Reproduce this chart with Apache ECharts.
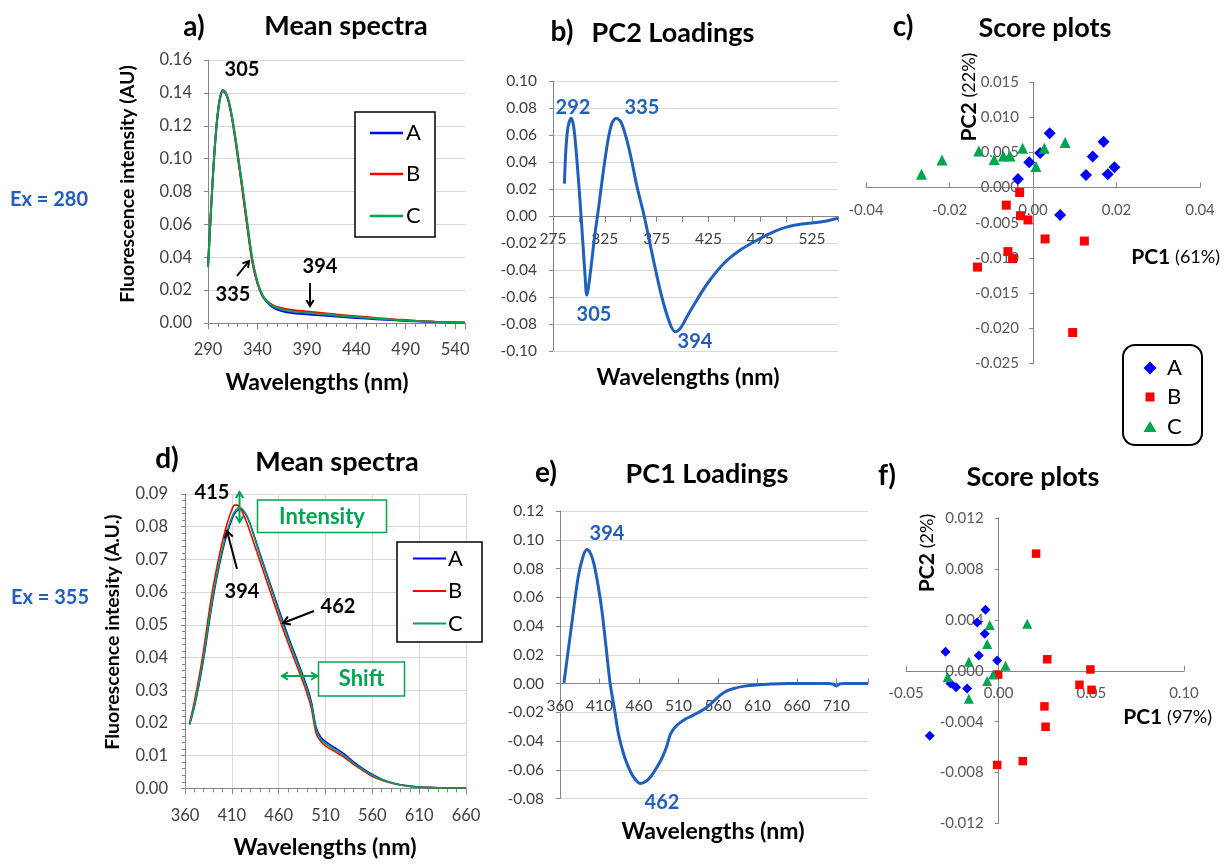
<!DOCTYPE html>
<html><head><meta charset="utf-8">
<script src="https://cdn.jsdelivr.net/npm/echarts@6/dist/echarts.min.js"></script>
<style>html,body{margin:0;padding:0;background:#fff}#c{width:1231px;height:864px}</style>
</head><body><div id="c"></div>
<script>
// ---------- DATA ----------
// a) Mean spectra, Ex = 280
const wlA = [290,293,296,299,302,305,308,311,315,320,325,330,335,340,345,350,355,360,370,380,390,400,420,440,460,480,500,520,540,550];
const aSpecA = [0.034,0.068,0.099,0.122,0.136,0.141,0.1395,0.1345,0.1225,0.1025,0.081,0.0585,0.0375,0.0245,0.0165,0.0125,0.0098,0.0082,0.0066,0.0058,0.0053,0.0048,0.0039,0.0031,0.0023,0.0016,0.0010,0.0006,0.0003,0.0002];
const aSpecB = [0.034,0.069,0.100,0.123,0.137,0.1418,0.1400,0.1345,0.1220,0.1015,0.0800,0.0572,0.0365,0.0242,0.0168,0.0132,0.0110,0.0097,0.0083,0.0076,0.0070,0.0064,0.0052,0.0041,0.0031,0.0022,0.0014,0.0008,0.0004,0.0003];
const aSpecC = [0.034,0.068,0.099,0.122,0.1363,0.1413,0.1398,0.1350,0.1232,0.1035,0.0822,0.0597,0.0385,0.0253,0.0172,0.0131,0.0106,0.0091,0.0075,0.0068,0.0062,0.0057,0.0046,0.0036,0.0027,0.0019,0.0012,0.0007,0.0003,0.0002];

// b) PC2 loadings, Ex = 280
const wlB = [286,287.5,289.5,292.5,295,298,301,304,306,307.5,309,312,315,319,323,328,332,336,341,348,356,363,372,380,388,393,398,404,410,424,440,456,475,490,502,515,527,540,550];
const pc2Load = [0.024,0.050,0.066,0.0724,0.066,0.042,0.012,-0.022,-0.045,-0.0586,-0.054,-0.036,-0.016,0.006,0.030,0.056,0.069,0.0724,0.069,0.051,0.022,0.0,-0.033,-0.060,-0.080,-0.0858,-0.083,-0.075,-0.067,-0.050,-0.035,-0.025,-0.0166,-0.011,-0.0079,-0.006,-0.005,-0.0035,-0.0017];

// c) Score plots (PC1 61%, PC2 22%)
const cA_pc1 = [0.0040,-0.0009,0.0017,-0.0036,0.0169,0.0143,0.0195,0.0179,0.0127,0.0065];
const cA_pc2 = [0.0077,0.0036,0.0049,0.0012,0.0065,0.0044,0.0029,0.0019,0.0018,-0.0039];
const cB_pc1 = [-0.0032,-0.0064,-0.0030,-0.0012,0.0029,0.0123,-0.0060,-0.0049,-0.0133,0.0095];
const cB_pc2 = [-0.0007,-0.0025,-0.0040,-0.0046,-0.0073,-0.0076,-0.0091,-0.0101,-0.0113,-0.0206];
const cC_pc1 = [-0.0267,-0.0218,-0.0130,-0.0093,-0.0071,-0.0055,-0.0025,0.0007,0.0027,0.0077];
const cC_pc2 = [0.0019,0.0039,0.0052,0.0040,0.0045,0.0045,0.0056,0.0030,0.0056,0.0064];

// d) Mean spectra, Ex = 355
const wlD = [365,370,375,380,385,390,395,400,405,410,413,416,419,422,426,430,440,450,460,470,480,490,495,500,505,510,520,530,540,550,560,570,580,590,600,610,620,640,660];
const dSpecA = [0.0195,0.0250,0.0318,0.0398,0.0492,0.0582,0.0660,0.0725,0.0780,0.0822,0.0840,0.0850,0.0853,0.0849,0.0832,0.0805,0.0718,0.0633,0.0548,0.0466,0.0390,0.0313,0.0263,0.0186,0.0156,0.0143,0.0124,0.0105,0.0081,0.0060,0.0042,0.0028,0.0018,0.0011,0.0007,0.0004,0.0003,0.0001,0.0001];
const dSpecB = [0.0200,0.0265,0.0340,0.0425,0.0525,0.0615,0.0690,0.0755,0.0810,0.0852,0.0866,0.0866,0.0856,0.0840,0.0812,0.0780,0.0695,0.0610,0.0525,0.0445,0.0370,0.0293,0.0243,0.0168,0.0143,0.0130,0.0112,0.0095,0.0073,0.0054,0.0037,0.0025,0.0016,0.0010,0.0006,0.0004,0.0002,0.0001,0.0001];
const dSpecC = [0.0198,0.0254,0.0324,0.0405,0.0500,0.0590,0.0668,0.0733,0.0787,0.0829,0.0846,0.0856,0.0858,0.0852,0.0833,0.0803,0.0713,0.0627,0.0541,0.0459,0.0383,0.0306,0.0256,0.0179,0.0150,0.0137,0.0118,0.0100,0.0077,0.0057,0.0040,0.0026,0.0017,0.0010,0.0006,0.0004,0.0002,0.0001,0.0001];

// e) PC1 loadings, Ex = 355
const wlE = [365,375,383,389,394,399,403,408,413,418,423.5,429,434,440,445,453,461.5,469,476,483,489,495,500,508,518,529,546,563,572,580,592,605,627,650,680,700,706,710,714,720,735,750];
const pc1Load = [0.0004,0.042,0.074,0.088,0.0932,0.090,0.083,0.069,0.051,0.027,0.0,-0.018,-0.035,-0.048,-0.056,-0.065,-0.0695,-0.068,-0.064,-0.058,-0.052,-0.044,-0.035,-0.029,-0.025,-0.022,-0.0165,-0.0081,-0.005,-0.0035,-0.002,-0.0012,-0.0003,0.0,0.0,0.0,-0.0005,-0.0018,-0.0003,0.0,0.0,0.0];

// f) Score plots (PC1 97%, PC2 2%)
const fA_pc1 = [-0.0071,-0.0116,-0.0075,-0.0287,-0.0107,-0.0008,-0.0260,-0.0230,-0.0170,-0.0372];
const fA_pc2 = [0.0048,0.0038,0.0029,0.0015,0.0012,0.0008,-0.0010,-0.0013,-0.0014,-0.0051];
const fB_pc1 = [0.0202,0.0262,0.0495,-0.0003,0.0436,0.0501,0.0247,0.0253,0.0130,-0.0008];
const fB_pc2 = [0.0092,0.0009,0.0001,-0.0003,-0.0011,-0.0015,-0.0028,-0.0044,-0.0071,-0.0074];
const fC_pc1 = [0.0154,-0.0048,-0.0062,-0.0161,0.0037,-0.0275,-0.0030,-0.0062,-0.0161];
const fC_pc2 = [0.0037,0.0036,0.0021,0.0007,0.0004,-0.0005,-0.0003,-0.0008,-0.0022];

const groupNames = ['A','B','C'];

// ---------- STYLE ----------
const FONT = 'Lato, "Open Sans", sans-serif';
const BLUE = '#0000FF', RED = '#FF0000', GREEN = '#00A550';
const LOAD = '#1F5FBF';
const AXIS = '#868686', GRIDC = '#D9D9D9';

const zip = (xs, ys) => xs.map((x, i) => [x, ys[i]]);
const fix = n => v => (Math.abs(v) < 1e-9 ? 0 : v).toFixed(n);

const grids = [
  { left: 208, top: 60, width: 257, height: 263 },      // a
  { left: 553, top: 81, width: 285, height: 270 },      // b
  { left: 866, top: 82, width: 334, height: 281.5 },    // c
  { left: 185, top: 494, width: 281, height: 294.3 },   // d
  { left: 560, top: 511, width: 308, height: 287.5 },   // e
  { left: 906, top: 518, width: 278, height: 305.5 }    // f
];
// axis ranges [xmin,xmax,xint, ymin,ymax,yint]
const ranges = [
  [290, 550, 50, 0, 0.16, 0.02],
  [275, 550, 25, -0.10, 0.10, 0.02],
  [-0.04, 0.04, 0.02, -0.025, 0.015, 0.005],
  [360, 660, 50, 0, 0.09, 0.01],
  [360, 750, 50, -0.08, 0.12, 0.02],
  [-0.05, 0.10, 0.05, -0.012, 0.012, 0.004]
];
// offsets so that axes cross at zero (axis lines and labels move together)
const xOffset = i => { const r = ranges[i]; return r[3] < 0 && r[4] > 0 ? -(0 - r[3]) / (r[4] - r[3]) * grids[i].height : 0; };
const yOffset = i => { const r = ranges[i]; return r[0] < 0 && r[1] > 0 ? -(0 - r[0]) / (r[1] - r[0]) * grids[i].width : 0; };

function xAx(idx, o) {
  const r = ranges[idx];
  return Object.assign({
    type: 'value', gridIndex: idx, min: r[0], max: r[1], interval: r[2], position: 'bottom', offset: xOffset(idx),
    axisLine: { show: true, onZero: false, lineStyle: { color: AXIS, width: 1 } },
    axisTick: { show: true, length: 5, lineStyle: { color: AXIS } },
    splitLine: { show: false },
    axisLabel: { color: '#404040', fontSize: 16, fontFamily: FONT, margin: 16 }
  }, o);
}
function yAx(idx, o) {
  const r = ranges[idx];
  return Object.assign({
    type: 'value', gridIndex: idx, min: r[3], max: r[4], interval: r[5], position: 'left', offset: yOffset(idx),
    axisLine: { show: true, onZero: false, lineStyle: { color: AXIS, width: 1 } },
    axisTick: { show: true, length: 4, lineStyle: { color: AXIS } },
    splitLine: { show: true, lineStyle: { color: GRIDC, width: 1 } },
    axisLabel: { color: '#404040', fontSize: 16, fontFamily: FONT, margin: 16 }
  }, o);
}

const xAxes = [
  xAx(0, { axisLabel: { color: '#404040', fontSize: 16.5, fontFamily: FONT, margin: 18, showMaxLabel: false, formatter: v => ((v - 290) % 50 === 0 ? String(v) : '') },
    minorTick: { show: true, splitNumber: 5, length: 4, lineStyle: { color: AXIS } }, axisTick: { show: true, length: 6, lineStyle: { color: AXIS } } }),
  xAx(1, { axisLabel: { color: '#404040', fontSize: 15.5, fontFamily: FONT, margin: 15, formatter: v => ((v - 275) % 50 === 0 ? String(v) : '') },
    axisTick: { show: true, length: 6, lineStyle: { color: AXIS } } }),
  xAx(2, { axisLabel: { color: '#595959', fontSize: 15, fontFamily: FONT, margin: 15, formatter: fix(2) },
    axisTick: { show: true, length: 5, inside: true, lineStyle: { color: AXIS } } }),
  xAx(3, { axisLabel: { color: '#404040', fontSize: 16.5, fontFamily: FONT, margin: 19 },
    splitLine: { show: true, lineStyle: { color: GRIDC } },
    minorTick: { show: true, splitNumber: 5, length: 4, lineStyle: { color: AXIS } }, axisTick: { show: true, length: 6, lineStyle: { color: AXIS } } }),
  xAx(4, { axisLabel: { color: '#404040', fontSize: 15.5, fontFamily: FONT, margin: 14, formatter: v => ((v - 360) % 50 === 0 ? String(v) : '') },
    axisTick: { show: true, length: 5, inside: true, lineStyle: { color: AXIS } } }),
  xAx(5, { axisLabel: { color: '#595959', fontSize: 15, fontFamily: FONT, margin: 15, formatter: fix(2) },
    axisTick: { show: true, length: 5, inside: true, lineStyle: { color: AXIS } } })
];
const yAxes = [
  yAx(0, { axisLabel: { color: '#404040', fontSize: 16.5, fontFamily: FONT, margin: 16, formatter: fix(2) } }),
  yAx(1, { axisLabel: { color: '#404040', fontSize: 15.5, fontFamily: FONT, margin: 16, formatter: fix(2) } }),
  yAx(2, { splitLine: { show: false }, axisLabel: { color: '#595959', fontSize: 15, fontFamily: FONT, margin: 14, formatter: fix(3) } }),
  yAx(3, { axisLabel: { color: '#404040', fontSize: 16.5, fontFamily: FONT, margin: 17, formatter: fix(2) },
    minorTick: { show: true, splitNumber: 5, length: 3, lineStyle: { color: AXIS } } }),
  yAx(4, { axisLabel: { color: '#404040', fontSize: 15.5, fontFamily: FONT, margin: 16, formatter: fix(2) } }),
  yAx(5, { splitLine: { show: false }, axisLabel: { color: '#595959', fontSize: 15, fontFamily: FONT, margin: 15, formatter: fix(3) } })
];

function specLine(idx, name, xs, ys, color, w) {
  return { type: 'line', name, xAxisIndex: idx, yAxisIndex: idx, data: zip(xs, ys), symbol: 'none', smooth: 0.3,
    lineStyle: { color, width: w }, itemStyle: { color }, z: 3 };
}
function scat(idx, name, xs, ys, color, symbol, size) {
  return { type: 'scatter', name, xAxisIndex: idx, yAxisIndex: idx, data: zip(xs, ys), symbol, symbolSize: size,
    itemStyle: { color, opacity: 1 }, z: 4 };
}

const series = [
  specLine(0, 'A', wlA, aSpecA, BLUE, 2),
  specLine(0, 'B', wlA, aSpecB, RED, 2),
  specLine(0, 'C', wlA, aSpecC, GREEN, 2),
  specLine(1, 'PC2', wlB, pc2Load, LOAD, 3),
  scat(2, 'A', cA_pc1, cA_pc2, BLUE, 'diamond', 12),
  scat(2, 'B', cB_pc1, cB_pc2, RED, 'rect', 9),
  scat(2, 'C', cC_pc1, cC_pc2, GREEN, 'triangle', 11),
  specLine(3, 'A', wlD, dSpecA, BLUE, 1.6),
  specLine(3, 'B', wlD, dSpecB, RED, 1.6),
  specLine(3, 'C', wlD, dSpecC, GREEN, 1.6),
  specLine(4, 'PC1', wlE, pc1Load, LOAD, 3),
  scat(5, 'A', fA_pc1, fA_pc2, BLUE, 'diamond', 10),
  scat(5, 'B', fB_pc1, fB_pc2, RED, 'rect', 8.5),
  scat(5, 'C', fC_pc1, fC_pc2, GREEN, 'triangle', 10)
];

// ---------- DECORATION (titles, annotations, legends) ----------
const G = [];
function txt(x, y, s, o) {
  const st = Object.assign({ text: s, fill: '#000', fontFamily: FONT, fontSize: 20, fontWeight: 'bold',
    textAlign: 'center', textVerticalAlign: 'middle', verticalAlign: 'middle' }, o || {});
  delete st.rot;
  const el = { type: 'text', x, y, z: 100, style: st };
  if (o && o.rot) { el.rotation = Math.PI / 2; }
  G.push(el);
}
function seg(x1, y1, x2, y2, color, w) {
  G.push({ type: 'line', z: 100, shape: { x1, y1, x2, y2 }, style: { stroke: color, lineWidth: w } });
}
function head(xf, yf, xt, yt, color, w, L) {
  const a = Math.atan2(yt - yf, xt - xf), s = 0.55;
  G.push({ type: 'polyline', z: 100, shape: { points: [
    [xt - L * Math.cos(a - s), yt - L * Math.sin(a - s)], [xt, yt], [xt - L * Math.cos(a + s), yt - L * Math.sin(a + s)]] },
    style: { stroke: color, lineWidth: w, fill: null } });
}
function arrow(x1, y1, x2, y2, color, w, L, both) {
  seg(x1, y1, x2, y2, color, w);
  head(x1, y1, x2, y2, color, w, L);
  if (both) head(x2, y2, x1, y1, color, w, L);
}
function box(x, y, w, h, stroke, lw, r) {
  G.push({ type: 'rect', z: 99, shape: { x, y, width: w, height: h, r: r || 0 }, style: { fill: '#fff', stroke, lineWidth: lw } });
}

const T = { fontSize: 27 };
// titles
txt(194, 27, 'a)', { fontSize: 28 }); txt(346, 26, 'Mean spectra', T);
txt(562, 32, 'b)', { fontSize: 28 }); txt(673, 33, 'PC2 Loadings', T);
txt(903, 27, 'c)', { fontSize: 28 }); txt(1045, 28, 'Score plots', T);
txt(167, 459, 'd)', { fontSize: 28 }); txt(337, 462, 'Mean spectra', T);
txt(546, 473, 'e)', { fontSize: 28 }); txt(707, 474, 'PC1 Loadings', T);
txt(887, 476, 'f)', { fontSize: 28 }); txt(1033, 477, 'Score plots', T);

// Ex labels
txt(49, 200, 'Ex = 280', { fill: LOAD, fontSize: 20 });
txt(50, 598, 'Ex = 355', { fill: LOAD, fontSize: 20 });

// axis names
txt(128, 184, 'Fluorescence intensity (AU)', { fontSize: 19.5, rot: 1 });
txt(317, 383, 'Wavelengths (nm)', { fontSize: 23 });
txt(688, 378, 'Wavelengths (nm)', { fontSize: 23 });
txt(113, 632, 'Fluorescence intesity (A.U.)', { fontSize: 19.5, rot: 1 });
txt(325, 848, 'Wavelengths (nm)', { fontSize: 23 });
txt(713, 832, 'Wavelengths (nm)', { fontSize: 23 });
const richPC = { b: { fontFamily: FONT, fontSize: 21, fontWeight: 'bold', fill: '#000', color: '#000' }, n: { fontFamily: FONT, fontSize: 18, fontWeight: 'normal', fill: '#000', color: '#000' } };
txt(969, 97, '{b|PC2} {n|(22%)}', { rich: richPC, rot: 1 });
txt(1220, 257, '{b|PC1} {n|(61%)}', { rich: richPC, textAlign: 'right' });
txt(927, 553, '{b|PC2} {n|(2%)}', { rich: richPC, rot: 1 });
txt(1212, 717, '{b|PC1} {n|(97%)}', { rich: richPC, textAlign: 'right' });

// a) annotations
txt(242, 70, '305'); txt(233, 295, '335'); txt(320, 267, '394');
arrow(237, 276, 249, 261, '#000', 2, 7);
arrow(310, 283, 310, 306, '#000', 2, 7);

// b) annotations
txt(573, 108, '292', { fill: LOAD }); txt(642, 108, '335', { fill: LOAD });
txt(594, 315, '305', { fill: LOAD }); txt(695, 342, '394', { fill: LOAD });

// d) annotations
txt(212, 493, '415'); txt(242, 592, '394'); txt(338, 607, '462');
arrow(237, 569, 227, 531, '#000', 2, 8);
arrow(314, 611, 283, 623, '#000', 2, 8);
arrow(239.5, 492, 239.5, 522, GREEN, 2, 7, true);
arrow(282, 676, 317, 676, GREEN, 2, 7, true);
box(257.5, 500, 129, 32.5, GREEN, 1.5);
txt(322, 516.5, 'Intensity', { fill: GREEN, fontSize: 22 });
box(318.5, 662, 86, 34, GREEN, 1.5);
txt(361.5, 679, 'Shift', { fill: GREEN, fontSize: 22 });

// e) annotations
txt(607, 534, '394', { fill: LOAD }); txt(662, 803, '462', { fill: LOAD });

// legends
const colors = [BLUE, RED, GREEN];
box(355, 112, 80, 125, '#000', 1.5);
[133, 174, 216].forEach((y, i) => { seg(370, y, 403, y, colors[i], 2.5); txt(406, y, groupNames[i], { textAlign: 'left', fontWeight: 'normal', fontSize: 22 }); });
box(397, 542, 85, 100, '#000', 1.5);
[558.5, 591, 623.5].forEach((y, i) => { seg(413, y, 446, y, colors[i], 2); txt(448, y, groupNames[i], { textAlign: 'left', fontWeight: 'normal', fontSize: 22 }); });
box(1123, 345, 79, 100, '#000', 2, 12);
const ly = [368, 397, 427];
G.push({ type: 'polygon', z: 101, shape: { points: [[1150, ly[0] - 6.5], [1156.5, ly[0]], [1150, ly[0] + 6.5], [1143.5, ly[0]]] }, style: { fill: BLUE } });
G.push({ type: 'rect', z: 101, shape: { x: 1145.5, y: ly[1] - 4.5, width: 9, height: 9 }, style: { fill: RED } });
G.push({ type: 'polygon', z: 101, shape: { points: [[1150, ly[2] - 6], [1156.5, ly[2] + 5], [1143.5, ly[2] + 5]] }, style: { fill: GREEN } });
ly.forEach((y, i) => txt(1167, y, groupNames[i], { textAlign: 'left', fontWeight: 'normal', fontSize: 22 }));

const chart = echarts.init(document.getElementById('c'), null, { renderer: 'canvas' });
chart.setOption({
  backgroundColor: '#fff',
  animation: false,
  textStyle: { fontFamily: FONT },
  grid: grids.map(g => Object.assign({ outerBoundsMode: 'none', containLabel: false }, g)),
  xAxis: xAxes,
  yAxis: yAxes,
  series,
  graphic: G
});
</script></body></html>
